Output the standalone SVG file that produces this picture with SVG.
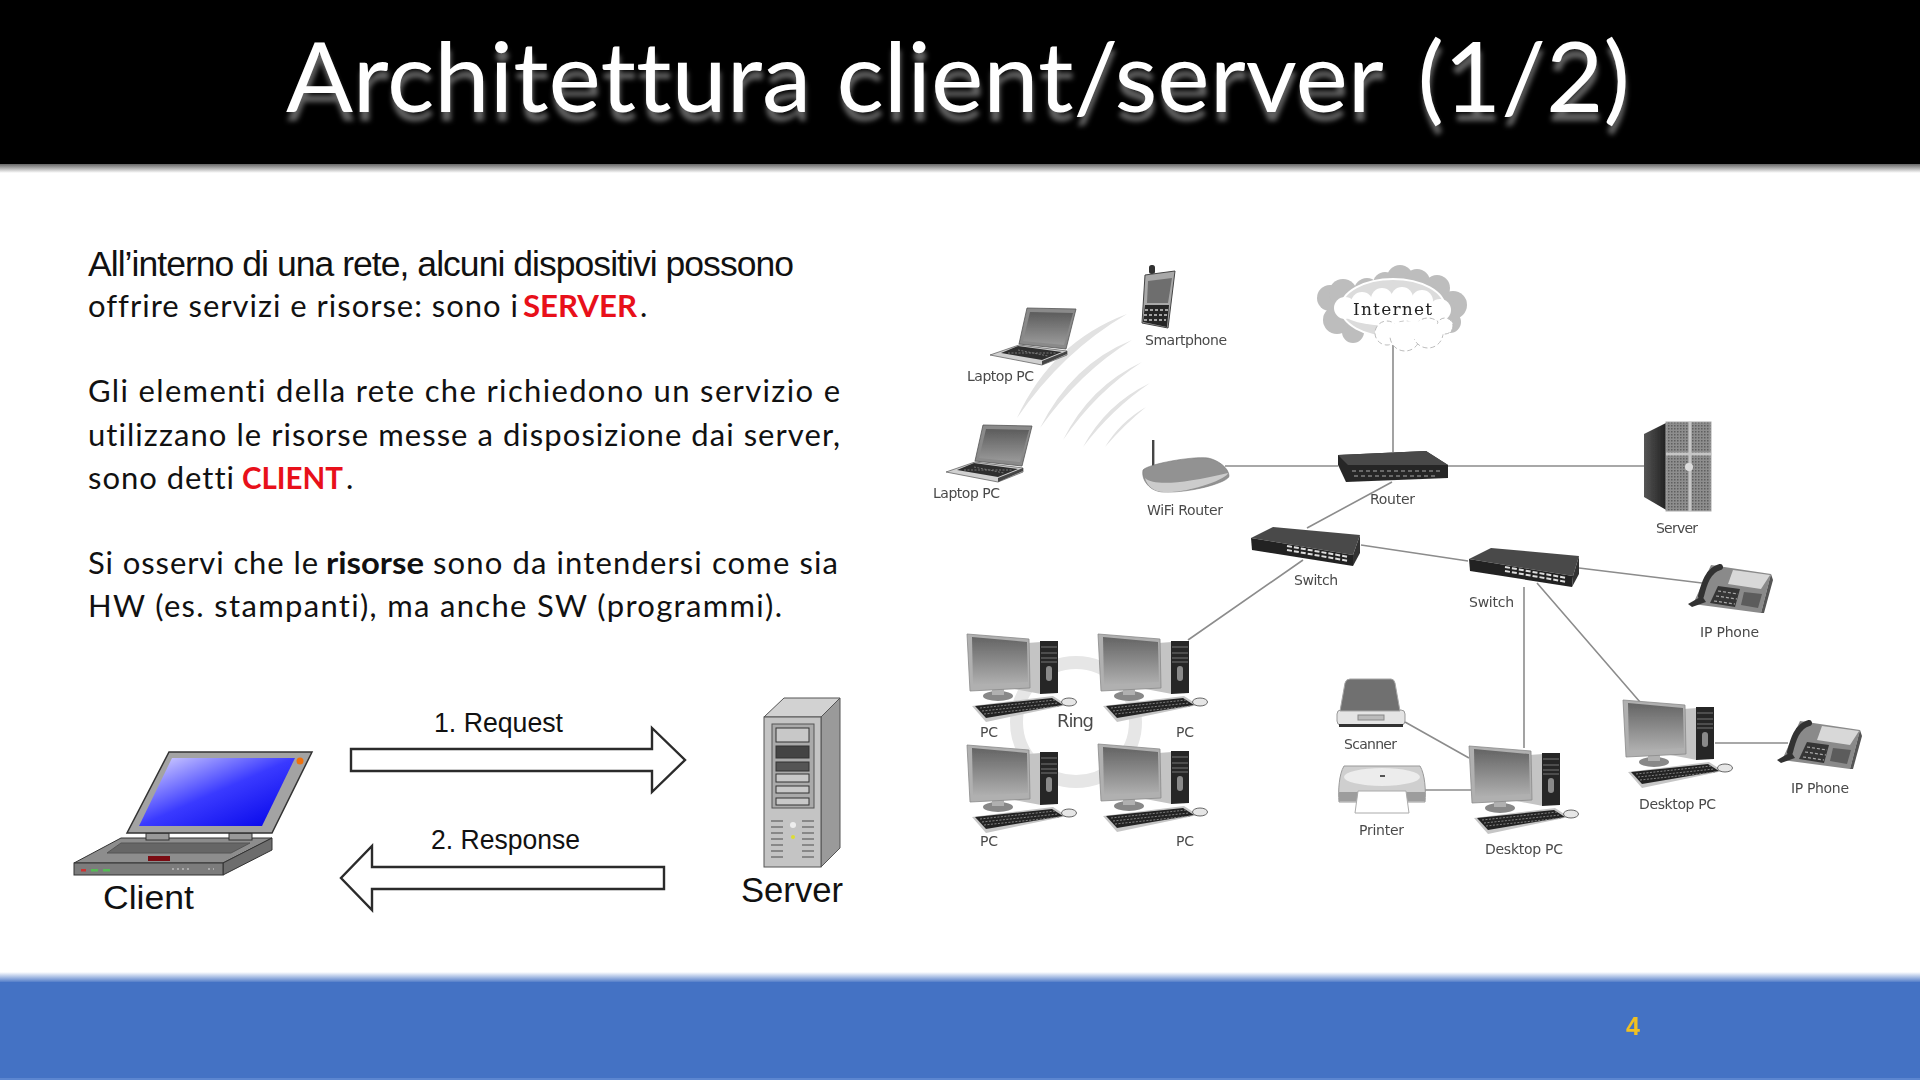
<svg xmlns="http://www.w3.org/2000/svg" xmlns:xlink="http://www.w3.org/1999/xlink" width="1920" height="1080" viewBox="0 0 1920 1080">
<style>
text{font-variant-ligatures:none}
.title{font-family:Lato,"Open Sans",sans-serif;font-size:96px;fill:#fff}
.b{font-family:Lato,"Open Sans",sans-serif;font-size:31px;fill:#111}
.b1{font-family:"Liberation Sans",Arial,sans-serif;font-size:35.5px;fill:#111}
.red{fill:#e8101a;font-weight:700}
.st{font-weight:700}
.l{font-family:"DejaVu Sans",Verdana,sans-serif;font-size:14px;fill:#4a4a4a;filter:url(#txt)}
.big{font-family:"Liberation Sans",Arial,sans-serif;fill:#111}
.wire{stroke:#8c8c8c;stroke-width:1.6;fill:none}
.arrow{fill:#fff;stroke:#2b2b2b;stroke-width:2.4}
.arc{fill:#e2e2e2}
</style>
<defs>
<filter id="soft" x="-5%" y="-5%" width="110%" height="110%"><feGaussianBlur stdDeviation="0.5"/></filter>
<filter id="txt" x="-5%" y="-20%" width="110%" height="140%"><feGaussianBlur stdDeviation="0.35"/></filter>
<filter id="tsh" x="-2%" y="-10%" width="104%" height="140%"><feDropShadow dx="1" dy="9" stdDeviation="2.4" flood-color="#fff" flood-opacity=".38"/></filter>
<linearGradient id="scr" x1="0" y1="0" x2="0" y2="1"><stop offset="0" stop-color="#646464"/><stop offset="1" stop-color="#b0b0b0"/></linearGradient>
<linearGradient id="lap" x1="0" y1="0" x2="0" y2="1"><stop offset="0" stop-color="#5c5c5c"/><stop offset="1" stop-color="#9a9a9a"/></linearGradient>
<linearGradient id="blue" x1="0" y1="0" x2="1" y2="1"><stop offset="0" stop-color="#e4e0ff"/><stop offset=".5" stop-color="#3a3aff"/><stop offset="1" stop-color="#0000e8"/></linearGradient>
<linearGradient id="sd" x1="0" y1="0" x2="1" y2="0"><stop offset="0" stop-color="#555"/><stop offset="1" stop-color="#1c1c1c"/></linearGradient>
<linearGradient id="bs" x1="0" y1="0" x2="0" y2="1"><stop offset="0" stop-color="#555"/><stop offset="1" stop-color="#fff"/></linearGradient>
<linearGradient id="fs" x1="0" y1="0" x2="0" y2="1"><stop offset="0" stop-color="#fff"/><stop offset="1" stop-color="#4472c4"/></linearGradient>
<pattern id="mesh" width="3" height="3" patternUnits="userSpaceOnUse"><rect width="3" height="3" fill="#8e8e8e"/><rect width="1.5" height="1.5" fill="#5e5e5e"/></pattern>

<symbol id="laptop" overflow="visible">
<polygon points="29,37 77,43 77,47 52,57 0,47" fill="#d0d0d0" stroke="#666" stroke-width=".8"/>
<polygon points="52,57 77,46 77,43 52,53" fill="#444"/>
<polygon points="11,45 28,38 72,44 52,52" fill="#2e2e2e"/>
<path d="M18 45L66 45M28 42L58 48" stroke="#888" stroke-width=".8" stroke-dasharray="2 1.5"/>
<polygon points="37,0 86,1 76,41 29,36" fill="#8a8a8a" stroke="#555" stroke-width=".8"/>
<polygon points="40,4 83,5 74,37 33,33" fill="url(#lap)"/>
</symbol>

<symbol id="pc" overflow="visible">
<polygon points="42,54 60,9 74,8 74,60" fill="#c4c4c4"/>
<polygon points="73,7 91,7 91,59 73,60" fill="#262626"/>
<path d="M74 13h16M74 19h16M74 24h16M74 28h16" stroke="#777" stroke-width="1.1"/>
<rect x="79" y="32" width="6" height="15" rx="3" fill="#8a8a8a"/>
<ellipse cx="31" cy="62" rx="15" ry="5" fill="#888"/>
<rect x="25" y="54" width="12" height="7" fill="#b0b0b0"/>
<polygon points="0,0 62,5 63,54 3,57" fill="#b0b0b0" stroke="#8a8a8a" stroke-width=".8"/>
<polygon points="5,3 60,8 61,48 6,51" fill="url(#scr)"/>
<polygon points="5,72 86,62 100,71 19,88" fill="#c6c6c6"/>
<polygon points="8,72 85,64 96,71 19,84" fill="#242424"/>
<path d="M13 74L88 66M15 77L91 69M17 80L93 72" stroke="#8a8a8a" stroke-width=".9" stroke-dasharray="2 1.5"/>
<ellipse cx="102" cy="68" rx="7.5" ry="4" fill="#e6e6e6" stroke="#666" stroke-width="1"/>
</symbol>

<symbol id="phone" overflow="visible">
<polygon points="23,3 83,12 73,51 5,42" fill="#8a8a8a"/>
<polygon points="73,51 83,12 85,18 76,51" fill="#555"/>
<path d="M32 5C20 8 16 22 13 34" stroke="#333" stroke-width="6" fill="none" stroke-linecap="round"/>
<path d="M0 42L14 34L18 40L4 45Z" fill="#333"/>
<polygon points="45,8 82,13 73,27 40,22" fill="#d8d8d8"/>
<polygon points="30,24 52,27 47,45 22,41" fill="#353535"/>
<path d="M30 29L50 32M28 34L49 37M26 39L47 42" stroke="#aaa" stroke-width="1.2" stroke-dasharray="3 2"/>
<polygon points="56,30 74,32 70,46 53,43" fill="#5c5c5c"/>
</symbol>
</defs>

<rect width="1920" height="1080" fill="#fff"/>
<rect x="0" y="163" width="1920" height="10" fill="url(#bs)"/>
<rect x="0" y="0" width="1920" height="164" fill="#000"/>
<rect x="0" y="972" width="1920" height="11" fill="url(#fs)"/>
<rect x="0" y="982" width="1920" height="98" fill="#4472c4"/>
<rect x="0" y="1078" width="1920" height="2" fill="#5c86d0"/>

<text id="title" class="title" x="286" y="112" textLength="1344" lengthAdjust="spacingAndGlyphs" filter="url(#tsh)">Architettura client/server <tspan dx="10">(1/2)</tspan></text>

<g id="body-text">
<text class="b1" x="88" y="276" textLength="706">All’interno di una rete, alcuni dispositivi possono</text>
<text class="b" x="88" y="317" textLength="430">offrire servizi e risorse: sono i</text>
<text class="b red" x="523" y="317" textLength="114" lengthAdjust="spacingAndGlyphs">SERVER</text>
<text class="b" x="640" y="317">.</text>
<text class="b" x="88" y="402" textLength="752">Gli elementi della rete che richiedono un servizio e</text>
<text class="b" x="88" y="446" textLength="752">utilizzano le risorse messe a disposizione dai server,</text>
<text class="b" x="88" y="489" textLength="146">sono detti</text>
<text class="b red" x="242" y="489" textLength="101" lengthAdjust="spacingAndGlyphs">CLIENT</text>
<text class="b" x="346" y="489">.</text>
<text class="b" x="88" y="574" textLength="230">Si osservi che le</text>
<text class="b st" x="326" y="574" textLength="98" lengthAdjust="spacingAndGlyphs">risorse</text>
<text class="b" x="433" y="574" textLength="405">sono da intendersi come sia</text>
<text class="b" x="88" y="617" textLength="694">HW (es. stampanti), ma anche SW (programmi).</text>
</g>

<text id="page-number" x="1626" y="1035" font-family="Liberation Sans,sans-serif" font-weight="700" font-size="25" fill="#f0c020" filter="url(#txt)">4</text>

<g id="connectors">
<polygon class="arrow" points="351,749 652,749 652,728 685,760 652,792 652,771 351,771"/>
<polygon class="arrow" points="664,867 372,867 372,846 341,878 372,910 372,889 664,889"/>
<path class="wire" d="M1393 345V452M1225 466H1338M1448 466H1645M1392 482L1307 528M1361 545L1468 561M1303 560L1188 640M1579 568L1702 583M1524 587V748M1537 583L1640 702M1405 722L1469 758M1425 790H1471M1715 743H1788"/>
<g id="wifi-waves" filter="url(#soft)">
<path class="arc" d="M1017 418Q1052 342 1127 314Q1062 352 1017 418Z"/>
<path class="arc" d="M1040 428Q1072 364 1132 340Q1080 372 1040 428Z"/>
<path class="arc" d="M1063 440Q1090 386 1142 362Q1096 392 1063 440Z"/>
<path class="arc" d="M1083 447Q1106 404 1150 383Q1112 409 1083 447Z"/>
<path class="arc" d="M1105 447Q1120 422 1146 407Q1124 425 1105 447Z"/>
</g>
</g>

<g id="client">
<polygon points="121,838 272,838 223,863 74,863" fill="#8d8d8d" stroke="#333"/>
<polygon points="223,863 272,838 272,850 223,875" fill="#6d6d6d" stroke="#333"/>
<rect x="74" y="863" width="149" height="12" fill="#7c7c7c" stroke="#333"/>
<polygon points="121,843 250,843 231,853 107,853" fill="#666" stroke="#555"/>
<rect x="148" y="856" width="22" height="5" fill="#7a0b12"/>
<rect x="81" y="869" width="5" height="2.5" fill="#c33"/><rect x="91" y="869" width="7" height="2.5" fill="#5b5"/><rect x="103" y="869" width="7" height="2.5" fill="#5b5"/>
<path d="M172 869h20M208 869h6" stroke="#aaa" stroke-width="2" stroke-dasharray="2 3"/>
<rect x="146" y="833" width="23" height="7" fill="#999" stroke="#333"/><rect x="229" y="833" width="23" height="7" fill="#999" stroke="#333"/>
<polygon points="169,752 312,752 272,833 127,833" fill="#a3a3a3" stroke="#333" stroke-width="1.5"/>
<polygon points="172,758 295,758 262,826 139,826" fill="url(#blue)"/>
<circle cx="300" cy="761" r="3.5" fill="#f0700a"/>
<text class="big" x="103" y="909" font-size="34" textLength="91" lengthAdjust="spacingAndGlyphs">Client</text>
</g>

<g id="server-main">
<polygon points="764,717 784,698 840,698 821,717" fill="#d2d2d2" stroke="#555"/>
<polygon points="821,717 840,698 840,848 821,867" fill="#9a9a9a" stroke="#555"/>
<rect x="764" y="717" width="57" height="150" fill="#c4c4c4" stroke="#555"/>
<rect x="772" y="724" width="42" height="84" fill="#aaa" stroke="#555"/>
<g fill="#c8c8c8" stroke="#333"><rect x="776" y="728" width="33" height="14"/><rect x="776" y="746" width="33" height="12" fill="#444"/><rect x="776" y="762" width="33" height="9" fill="#555"/><rect x="776" y="774" width="33" height="8"/><rect x="776" y="786" width="33" height="7"/><rect x="776" y="798" width="33" height="7"/></g>
<path d="M771 821h12M771 827h12M771 833h12M771 839h12M771 845h12M771 851h12M771 857h12M802 821h12M802 827h12M802 833h12M802 839h12M802 845h12M802 851h12M802 857h12" stroke="#888" stroke-width="2"/>
<circle cx="793" cy="825" r="3" fill="#eee"/><circle cx="793" cy="837" r="2" fill="#dd3"/>
<text class="big" x="741" y="902" font-size="35" textLength="102" lengthAdjust="spacingAndGlyphs">Server</text>
</g>
<text id="label-request" class="big" x="434" y="732" font-size="27" textLength="129" lengthAdjust="spacingAndGlyphs">1. Request</text>
<text id="label-response" class="big" x="431" y="849" font-size="27" textLength="149" lengthAdjust="spacingAndGlyphs">2. Response</text>

<g id="node-smartphone">
<g filter="url(#soft)" transform="translate(1140 265)">
<rect x="9" y="0" width="6" height="9" rx="2.5" fill="#333"/>
<polygon points="5,10 35,6 28,63 2,58" fill="#a8a8a8" stroke="#444"/>
<polygon points="8,16 32,13 28,38 7,38" fill="#6e6e6e"/>
<polygon points="5,40 29,40 27,62 3,57" fill="#262626"/>
<path d="M5 45h23M4 50h23M4 55h22" stroke="#ccc" stroke-width="1.4" stroke-dasharray="3 2"/>
</g>
<text class="l" x="1145" y="345" textLength="82">Smartphone</text>
</g>

<g id="node-laptop-1"><g filter="url(#soft)"><use xlink:href="#laptop" href="#laptop" x="990" y="308"/></g><text class="l" x="967" y="381" textLength="67">Laptop PC</text></g>
<g id="node-laptop-2"><g filter="url(#soft)"><use xlink:href="#laptop" href="#laptop" x="946" y="425"/></g><text class="l" x="933" y="498" textLength="67">Laptop PC</text></g>

<g id="node-wifi-router">
<g filter="url(#soft)" transform="translate(1142 440)">
<rect x="10" y="0" width="2.4" height="30" fill="#444"/>
<path d="M1 30C6 24 50 16 66 18C76 20 87 28 87 36C87 42 50 53 22 52C8 52 -1 40 1 30Z" fill="#929292" stroke="#777" stroke-width=".6"/>
<path d="M3 38C12 46 40 44 86 33C86 38 50 53 22 52C12 52 5 46 3 38Z" fill="#cccccc"/>
</g>
<text class="l" x="1147" y="515" textLength="76">WiFi Router</text>
</g>

<g id="node-internet">
<g filter="url(#soft)">
<g fill="#bdbdbd"><circle cx="1330" cy="298" r="13"/><circle cx="1343" cy="293" r="14"/><circle cx="1337" cy="320" r="14"/><circle cx="1353" cy="332" r="11"/><circle cx="1367" cy="291" r="13"/><circle cx="1385" cy="284" r="12"/><circle cx="1400" cy="278" r="13"/><circle cx="1417" cy="282" r="13"/><circle cx="1437" cy="288" r="13"/><circle cx="1453" cy="305" r="14"/><circle cx="1450" cy="322" r="11"/><ellipse cx="1393" cy="308" rx="62" ry="28"/></g>
<ellipse cx="1393" cy="308" rx="52" ry="29" fill="#dcdcdc" stroke="#fff" stroke-width="2"/>
<g fill="#fff"><circle cx="1345" cy="308" r="11"/><circle cx="1362" cy="303" r="11"/><circle cx="1382" cy="299" r="11"/><circle cx="1402" cy="298" r="11"/><circle cx="1422" cy="301" r="11"/><circle cx="1440" cy="310" r="11"/><ellipse cx="1393" cy="313" rx="50" ry="13"/></g>
<g fill="#fff" stroke="#bbb" stroke-width="1" stroke-dasharray="5 3"><circle cx="1387" cy="333" r="12"/><circle cx="1405" cy="336" r="15"/><circle cx="1428" cy="333" r="15"/><circle cx="1445" cy="326" r="8"/></g>
<ellipse cx="1415" cy="330" rx="32" ry="9" fill="#fff"/>
</g>
<text x="1353" y="315" font-family="'DejaVu Serif',serif" font-size="17" fill="#222" textLength="79" filter="url(#txt)">Internet</text>
</g>

<g id="node-router">
<g filter="url(#soft)" transform="translate(1338 451)">
<polygon points="0,4 88,0 110,14 110,27 8,31 0,14" fill="#262626"/>
<polygon points="0,4 88,0 110,14 10,14" fill="#4a4a4a"/>
<path d="M14 20h90M16 25h84" stroke="#aaa" stroke-width="1.2" stroke-dasharray="4 3"/>
</g>
<text class="l" x="1370" y="504" textLength="45">Router</text>
</g>

<g id="node-server">
<g filter="url(#soft)" transform="translate(1644 422)">
<polygon points="0,12 22,1 24,89 0,75" fill="url(#sd)"/>
<rect x="22" y="0" width="45" height="89" fill="url(#mesh)" stroke="#aaa"/>
<path d="M46 0V89M22 32H67" stroke="#c6c6c6" stroke-width="3"/>
<circle cx="45" cy="45" r="4" fill="#ddd"/>
</g>
<text class="l" x="1656" y="533" textLength="42">Server</text>
</g>

<g id="node-switch-1">
<g filter="url(#soft)" transform="translate(1251 527)">
<polygon points="0,11 22,0 109,8 102,28" fill="#4a4a4a"/>
<polygon points="0,11 102,28 102,39 1,23" fill="#222"/>
<polygon points="102,28 109,8 109,26 102,39" fill="#333"/>
<path d="M36 19L98 30M36 23L98 34" stroke="#ddd" stroke-width="2" stroke-dasharray="5 2"/>
</g>
<text class="l" x="1294" y="585" textLength="44">Switch</text>
</g>

<g id="node-switch-2">
<g filter="url(#soft)" transform="translate(1469 548)">
<polygon points="0,11 22,0 110,8 104,28" fill="#4a4a4a"/>
<polygon points="0,11 104,28 103,39 1,23" fill="#222"/>
<polygon points="104,28 110,8 110,26 103,39" fill="#333"/>
<path d="M36 19L98 30M36 23L98 34" stroke="#ddd" stroke-width="2" stroke-dasharray="5 2"/>
</g>
<text class="l" x="1469" y="607" textLength="45">Switch</text>
</g>

<g id="node-ip-phone-1"><g filter="url(#soft)"><use xlink:href="#phone" href="#phone" x="1688" y="562"/></g><text class="l" x="1700" y="637" textLength="59">IP Phone</text></g>
<g id="node-ip-phone-2"><g filter="url(#soft)"><use xlink:href="#phone" href="#phone" x="1777" y="718"/></g><text class="l" x="1791" y="793" textLength="58">IP Phone</text></g>

<g id="node-ring">
<circle cx="1076" cy="722" r="59.5" fill="none" stroke="#e6e6e6" stroke-width="13"/>
<text class="l" x="1057" y="727" style="font-size:18px" textLength="37">Ring</text>
</g>

<g id="node-pc-1"><g filter="url(#soft)"><use xlink:href="#pc" href="#pc" x="967" y="634"/></g><text class="l" x="980" y="737" textLength="18">PC</text></g>
<g id="node-pc-2"><g filter="url(#soft)"><use xlink:href="#pc" href="#pc" x="1098" y="634"/></g><text class="l" x="1176" y="737" textLength="18">PC</text></g>
<g id="node-pc-3"><g filter="url(#soft)"><use xlink:href="#pc" href="#pc" x="967" y="745"/></g><text class="l" x="980" y="846" textLength="18">PC</text></g>
<g id="node-pc-4"><g filter="url(#soft)"><use xlink:href="#pc" href="#pc" x="1098" y="744"/></g><text class="l" x="1176" y="846" textLength="18">PC</text></g>

<g id="node-scanner">
<g filter="url(#soft)" transform="translate(1337 679)">
<rect x="0" y="31" width="68" height="15" rx="4" fill="#e4e4e4" stroke="#999"/>
<path d="M13 0H54Q57 0 58 4L63 32H3L8 4Q9 0 13 0Z" fill="#707070" stroke="#a5a5a5"/>
<rect x="21" y="36" width="26" height="5" fill="#bbb" stroke="#888"/>
<rect x="2" y="45" width="64" height="3" fill="#333"/>
</g>
<text class="l" x="1344" y="749" textLength="53">Scanner</text>
</g>

<g id="node-printer">
<g filter="url(#soft)" transform="translate(1338 766)">
<path d="M6 0H82C87 8 88 25 87 36H1C0 25 1 8 6 0Z" fill="#cfcfcf" stroke="#999"/>
<ellipse cx="44" cy="11" rx="38" ry="9" fill="#ececec"/>
<rect x="42" y="9" width="5" height="2" fill="#555"/>
<path d="M1 26H87V35H1Z" fill="#9d9d9d"/>
<polygon points="20,25 68,25 71,47 17,47" fill="#fff" stroke="#aaa"/>
</g>
<text class="l" x="1359" y="835" textLength="45">Printer</text>
</g>

<g id="node-desktop-1"><g filter="url(#soft)"><use xlink:href="#pc" href="#pc" x="1469" y="746"/></g><text class="l" x="1485" y="854" textLength="78">Desktop PC</text></g>
<g id="node-desktop-2"><g filter="url(#soft)"><use xlink:href="#pc" href="#pc" x="1623" y="700"/></g><text class="l" x="1639" y="809" textLength="77">Desktop PC</text></g>
</svg>
